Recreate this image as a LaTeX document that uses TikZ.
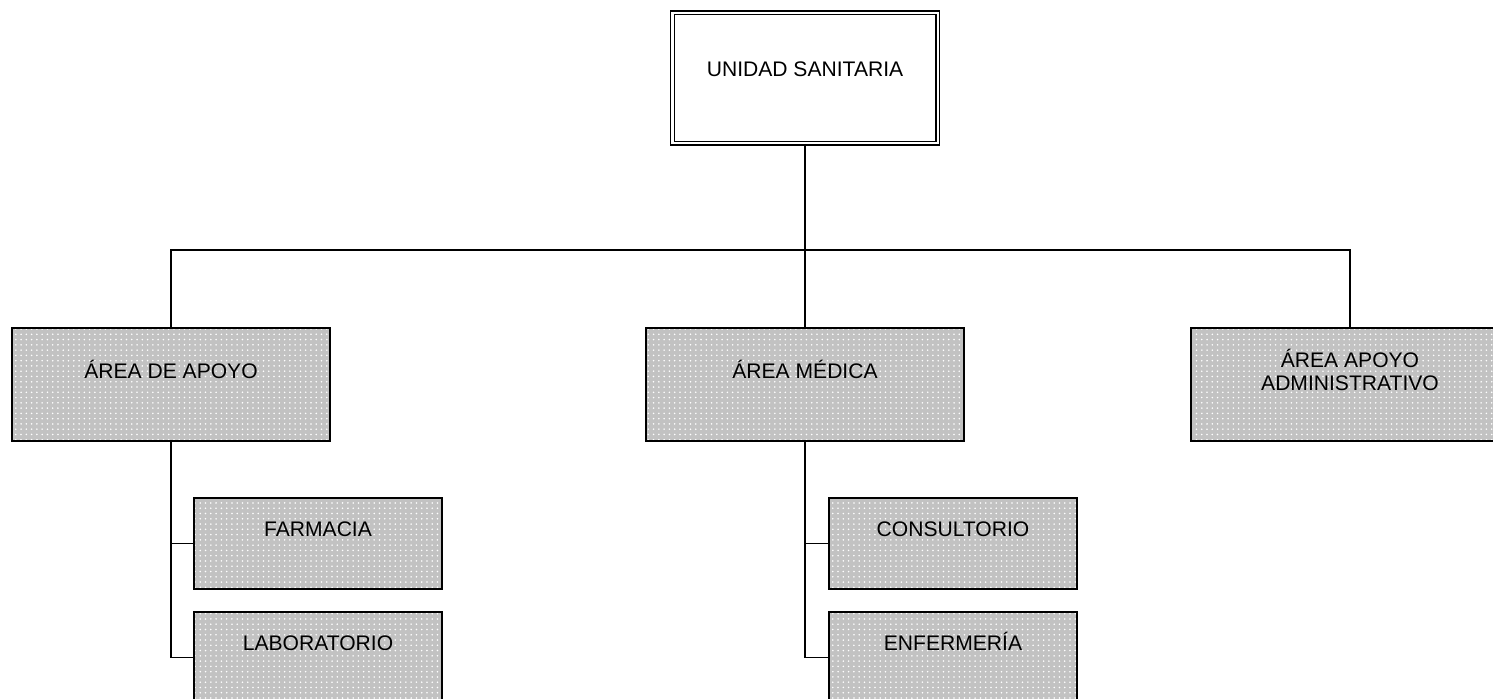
\documentclass[tikz,border=0pt]{standalone}
\usepackage{fontspec}
\setmainfont{Liberation Sans}
\usetikzlibrary{positioning,patterns}

\begin{document}
\begin{tikzpicture}[x=0.02cm, y=-0.02cm,
  unit/.style={draw, line width=1.1pt, font=\fontsize{12}{13}\selectfont,
               align=center, inner sep=0pt, text height=0.72em},
  root/.style={unit, line width=0.8pt, double, double distance=1.4pt,
               minimum width=5.31cm, minimum height=2.61cm, text depth=0.32cm},
  shaded/.style={preaction={fill=black!24}, pattern=dots, pattern color=white},
  area/.style={unit, shaded, minimum width=6.36cm, minimum height=2.26cm,
               text depth=0.48cm},
  sub/.style={unit, shaded, minimum width=4.96cm, minimum height=1.82cm,
              text depth=0.52cm},
  link/.style={line width=1.1pt},
]
\useasboundingbox (0,0) rectangle (1493,698);
\clip (0,0) rectangle (1493,698);

% Top
\node[root] (unidad) at (805,78) {UNIDAD SANITARIA};

% Areas
\node[area] (apoyo)  at (171,384.5)  {ÁREA DE APOYO};
\node[area] (medica) at (805,384.5)  {ÁREA MÉDICA};
\node[area, text height=0.72em+13pt] (admin) at (1350,384.5)
  {ÁREA APOYO\\ADMINISTRATIVO};

% Sub units
\node[sub] (farmacia) at (318,543.5) {FARMACIA};
\node[sub] (lab)      at (318,657.5) {LABORATORIO};
\node[sub] (consulta) at (953,543.5) {CONSULTORIO};
\node[sub] (enferm)   at (953,657.5) {ENFERMERÍA};

% Lines
\coordinate (bus) at (805,250);
\draw[link] (unidad.south) -- (bus) -- (medica.north);
\draw[link] (apoyo.north) |- (bus) -| (admin.north);
\draw[link] (apoyo.south) |- (lab.west);
\draw[link] (apoyo.south |- farmacia.west) -- (farmacia.west);
\draw[link] (medica.south) |- (enferm.west);
\draw[link] (medica.south |- consulta.west) -- (consulta.west);

\end{tikzpicture}
\end{document}
